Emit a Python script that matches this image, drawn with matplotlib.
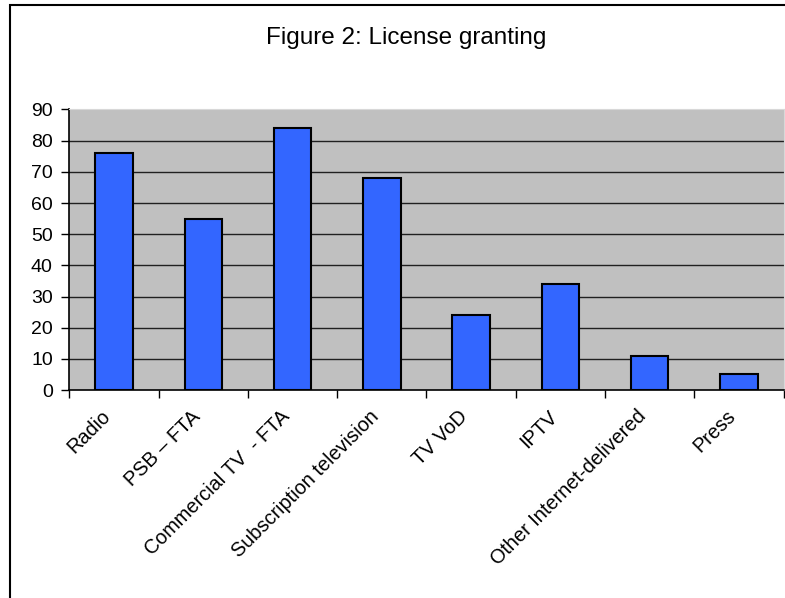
import matplotlib
matplotlib.use("Agg")
import matplotlib.pyplot as plt
import matplotlib.transforms as mtransforms
from matplotlib.patches import Rectangle
import numpy as np

plt.rcParams['font.family'] = ['Liberation Sans', 'DejaVu Sans']

# Share of licences granted per service type
categories = ['Radio', 'PSB \u2013 FTA', 'Commercial TV  - FTA', 'Subscription television',
              'TV VoD', 'IPTV', 'Other Internet-delivered', 'Press']
values = [76, 55, 84, 68, 24, 34, 11, 5]
yticks = [0, 10, 20, 30, 40, 50, 60, 70, 80, 90]

fig = plt.figure(figsize=(7.85, 5.98), dpi=100)
ax = fig.add_axes([0.0885, 0.3478, 0.9096, 0.4691])

x = np.arange(len(categories))
ax.bar(x, values, width=0.42, color='#3366FF', edgecolor='black', linewidth=1.5, zorder=3)

ax.set_facecolor('#C0C0C0')
ax.set_xlim(-0.5, len(categories) - 0.5)
ax.set_ylim(0, 90)
ax.set_yticks(yticks)
ax.tick_params(axis='y', direction='out', length=6, width=1, pad=6, labelsize=14)

# grid lines between 0 and the top edge
for v in yticks[1:-1]:
    ax.axhline(v, color='#202020', linewidth=1, zorder=1)

# category boundaries get the tick marks, labels sit at the centres
ax.set_xticks(np.arange(-0.5, len(categories)), minor=True)
ax.tick_params(axis='x', which='minor', direction='out', length=6, width=1)
ax.set_xticks(x)
ax.set_xticklabels(categories, rotation=45, ha='right', rotation_mode='anchor', fontsize=14.3)
ax.tick_params(axis='x', which='major', length=0, pad=12)

# nudge the slanted labels a little to the left of each bar
shift = mtransforms.ScaledTranslation(-13 / 100, 0, fig.dpi_scale_trans)
for lbl in ax.get_xticklabels():
    lbl.set_transform(lbl.get_transform() + shift)

for side in ['top', 'right']:
    ax.spines[side].set_color('#D8D8D8')
for side in ['left', 'bottom']:
    ax.spines[side].set_color('black')
    ax.spines[side].set_linewidth(1.2)

fig.text(0.517, 0.936, 'Figure 2: License granting', ha='center', va='center', fontsize=17.5)

# outer frame around the whole chart
fig.patches.append(Rectangle((9.5 / 785, -0.1), 1.2, 1.1 - 5 / 598, transform=fig.transFigure,
                             fill=False, edgecolor='black', linewidth=1.5))

fig.savefig('out.png', dpi=100)
